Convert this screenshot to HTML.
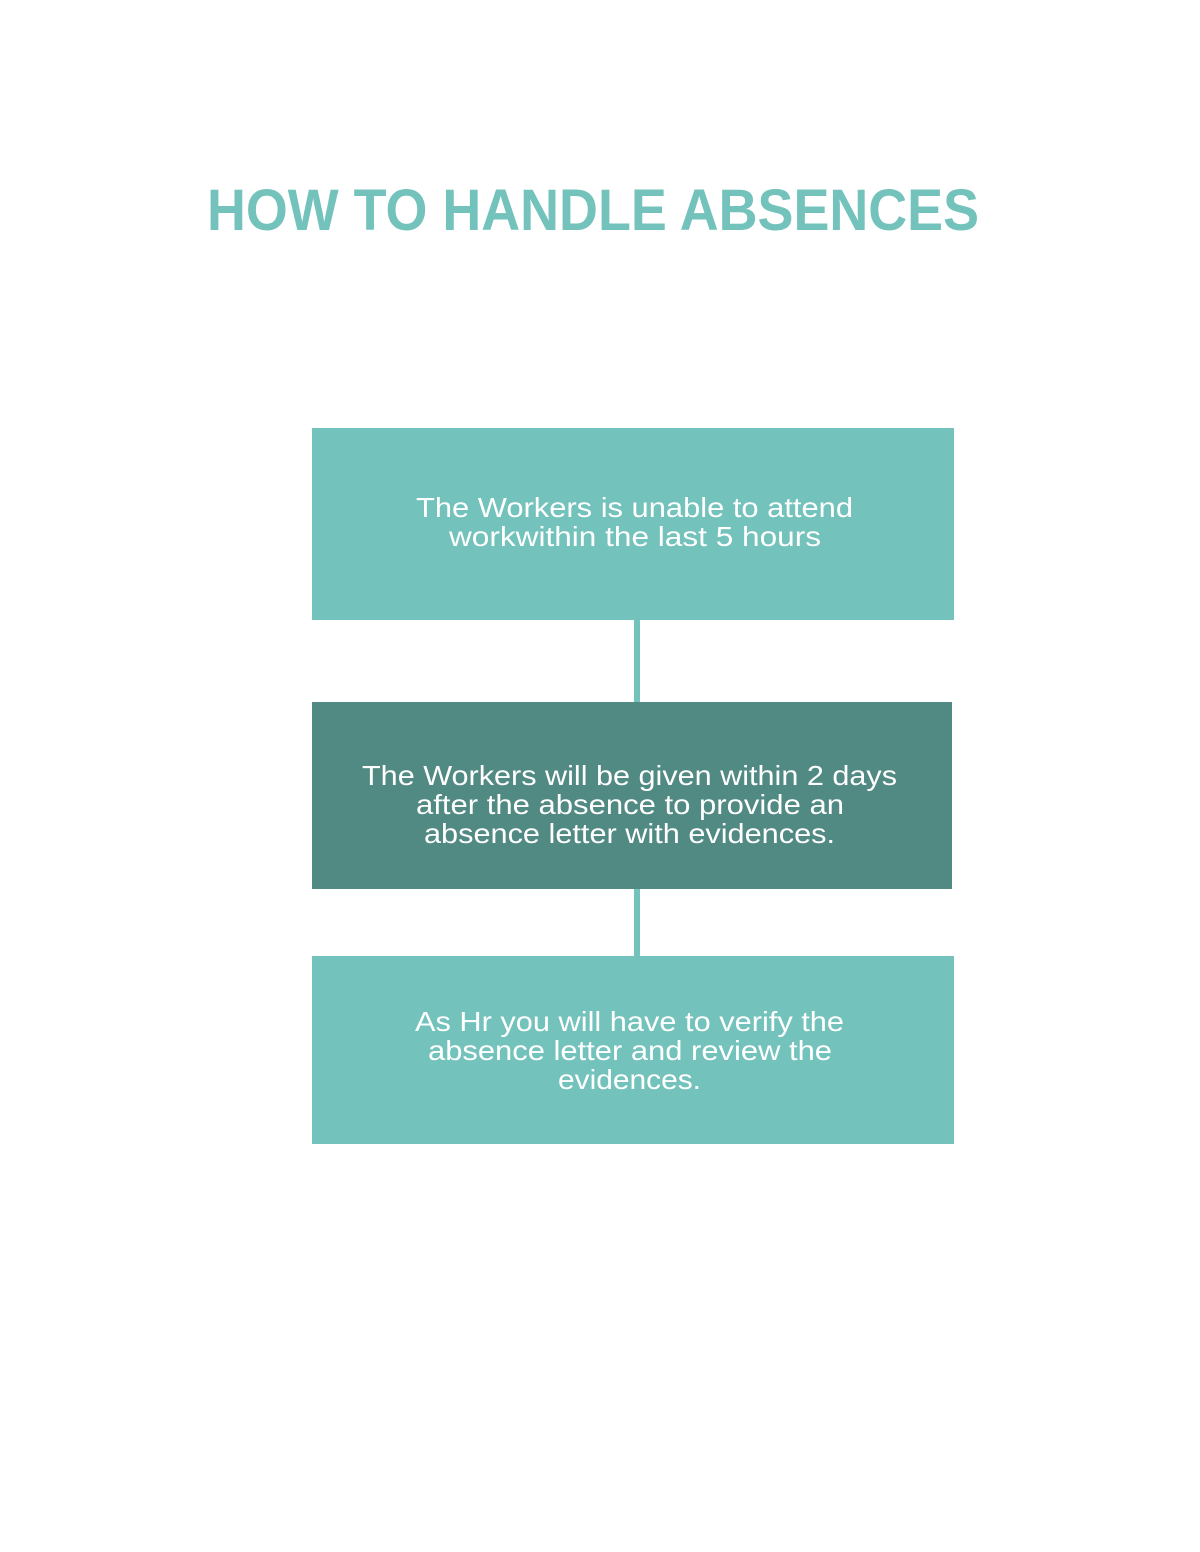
<!DOCTYPE html>
<html><head><meta charset="utf-8"><style>html,body{margin:0;padding:0;background:#fff}svg{display:block}</style></head>
<body>
<svg width="1200" height="1552" viewBox="0 0 1200 1552" xmlns="http://www.w3.org/2000/svg">
<rect width="1200" height="1552" fill="#fff"/>
<text x="207" y="230" font-family="Liberation Sans, sans-serif" font-weight="bold" font-size="58" fill="#73c2bb" textLength="772" lengthAdjust="spacingAndGlyphs">HOW TO HANDLE ABSENCES</text>
<rect x="634" y="618" width="6" height="86" fill="#73c2bb"/>
<rect x="634" y="887" width="6" height="71" fill="#73c2bb"/>
<rect x="312" y="428" width="642" height="192" fill="#73c2bb"/>
<rect x="312" y="702" width="640" height="187" fill="#518983"/>
<rect x="312" y="956" width="642" height="188" fill="#73c2bb"/>
<g font-family="Liberation Sans, sans-serif" font-size="28" fill="#fff">
<text x="416" y="517" textLength="437" lengthAdjust="spacingAndGlyphs">The Workers is unable to attend</text>
<text x="449" y="546" textLength="372" lengthAdjust="spacingAndGlyphs">workwithin the last 5 hours</text>
<text x="362" y="785" textLength="535" lengthAdjust="spacingAndGlyphs">The Workers will be given within 2 days</text>
<text x="416" y="814" textLength="428" lengthAdjust="spacingAndGlyphs">after the absence to provide an</text>
<text x="424" y="843" textLength="411" lengthAdjust="spacingAndGlyphs">absence letter with evidences.</text>
<text x="415" y="1031" textLength="429" lengthAdjust="spacingAndGlyphs">As Hr you will have to verify the</text>
<text x="428" y="1060" textLength="404" lengthAdjust="spacingAndGlyphs">absence letter and review the</text>
<text x="558" y="1089" textLength="143" lengthAdjust="spacingAndGlyphs">evidences.</text>
</g>
</svg>
</body></html>
